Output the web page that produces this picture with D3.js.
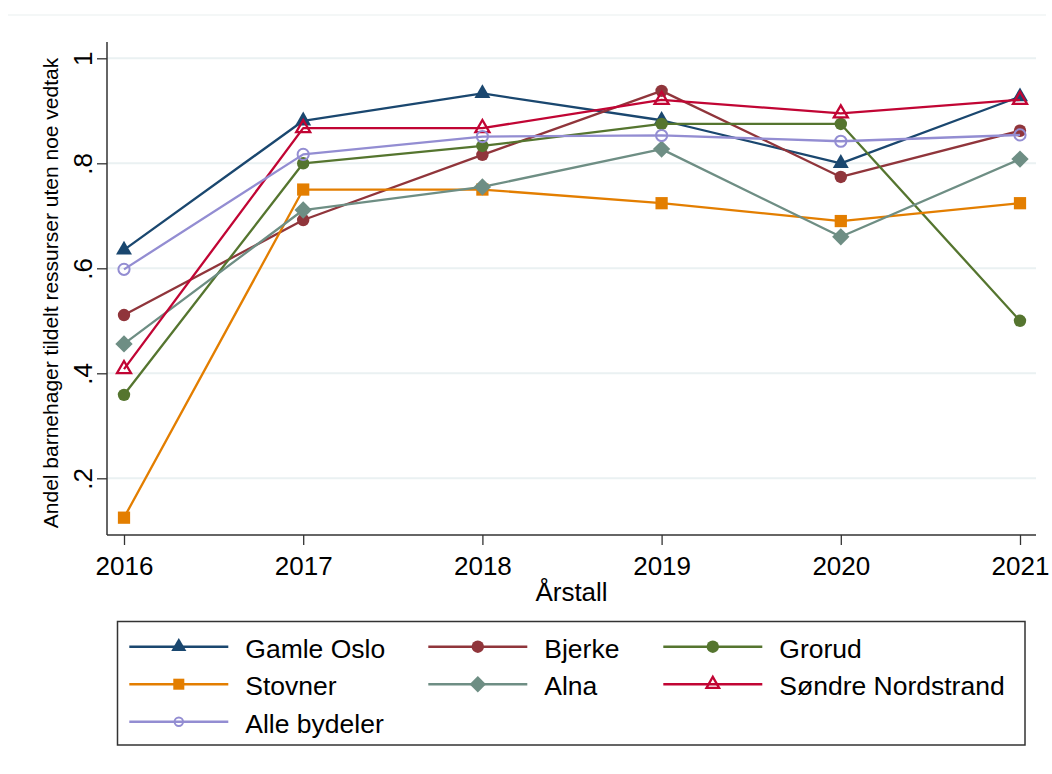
<!DOCTYPE html>
<html>
<head>
<meta charset="utf-8">
<script src="https://cdn.jsdelivr.net/npm/d3@7"></script>
<style>
  html, body { margin: 0; padding: 0; background: #fff; }
  svg { display: block; font-family: "Liberation Sans", Arial, sans-serif; }
</style>
</head>
<body>
<svg id="chart" width="1052" height="774"></svg>
<script>
// ---- data ----
const years = [2016, 2017, 2018, 2019, 2020, 2021];
const seriesNames = ["Gamle Oslo", "Bjerke", "Grorud", "Stovner", "Alna", "Søndre Nordstrand", "Alle bydeler"];
const gamleOslo = [0.635, 0.881, 0.933, 0.882, 0.800, 0.927];
const bjerke    = [0.511, 0.692, 0.816, 0.938, 0.774, 0.862];
const grorud    = [0.359, 0.800, 0.833, 0.875, 0.875, 0.500];
const stovner   = [0.125, 0.750, 0.750, 0.724, 0.690, 0.724];
const alna      = [0.456, 0.711, 0.755, 0.827, 0.660, 0.808];
const sondreNordstrand = [0.408, 0.867, 0.867, 0.921, 0.895, 0.921];
const alleBydeler = [0.598, 0.817, 0.851, 0.853, 0.842, 0.854];
const yTicks = [0.2, 0.4, 0.6, 0.8, 1];
const yTickLabels = [".2", ".4", ".6", ".8", "1"];
const xTitle = "Årstall";
const yTitle = "Andel barnehager tildelt ressurser uten noe vedtak";

const seriesValues = [gamleOslo, bjerke, grorud, stovner, alna, sondreNordstrand, alleBydeler];
const colors = ["#1a476f", "#90353b", "#55752f", "#e37e00", "#6e8e84", "#c10534", "#938dd2"];
const markers = ["triangle", "circle", "circle", "square", "diamond", "triangleHollow", "circleHollow"];

// ---- layout ----
const svg = d3.select("#chart");
const x = d3.scaleLinear().domain([2016, 2021]).range([124, 1020]);
const y = d3.scaleLinear().domain([0.2, 1]).range([478.3, 58.3]);
const plotLeft = 107, plotRight = 1036, plotTop = 42, plotBottom = 535;
const FONT = 26;

// faint outer line
svg.append("line").attr("x1", 8).attr("x2", 1046).attr("y1", 15).attr("y2", 15)
  .attr("stroke", "#f1f4f4").attr("stroke-width", 1.5);

// gridlines
svg.append("g").selectAll("line").data(yTicks).join("line")
  .attr("x1", plotLeft).attr("x2", plotRight)
  .attr("y1", d => y(d)).attr("y2", d => y(d))
  .attr("stroke", "#eaf1f2").attr("stroke-width", 2);

// y axis
const yAxis = d3.axisLeft(y).tickValues(yTicks)
  .tickFormat((d, i) => yTickLabels[i]).tickSize(10).tickSizeOuter(0);
const gy = svg.append("g").attr("transform", `translate(${plotLeft},0)`).call(yAxis);
gy.select(".domain").remove();
gy.selectAll(".tick line").attr("stroke", "#333").attr("stroke-width", 1.3);
gy.selectAll(".tick text")
  .attr("font-size", FONT).attr("fill", "#000")
  .attr("x", null).attr("dy", null)
  .attr("text-anchor", "middle")
  .attr("transform", "translate(-15,0) rotate(-90)")
  .attr("y", 0);
svg.append("line").attr("x1", plotLeft).attr("x2", plotLeft)
  .attr("y1", plotTop).attr("y2", plotBottom)
  .attr("stroke", "#333").attr("stroke-width", 1.5);

// x axis
const xAxis = d3.axisBottom(x).tickValues(years).tickFormat(d3.format("d"))
  .tickSize(10).tickSizeOuter(0);
const gx = svg.append("g").attr("transform", `translate(0,${plotBottom})`).call(xAxis);
gx.select(".domain").remove();
gx.selectAll(".tick line").attr("stroke", "#333").attr("stroke-width", 1.3);
gx.selectAll(".tick text").attr("font-size", FONT).attr("fill", "#000")
  .attr("dy", null).attr("y", 40);
svg.append("line").attr("x1", plotLeft).attr("x2", plotRight)
  .attr("y1", plotBottom).attr("y2", plotBottom)
  .attr("stroke", "#333").attr("stroke-width", 1.5);

// axis titles
svg.append("text").attr("x", 571.5).attr("y", 601).attr("text-anchor", "middle")
  .attr("font-size", FONT).attr("fill", "#000").text(xTitle);
svg.append("text").attr("transform", "translate(58,293) rotate(-90)")
  .attr("text-anchor", "middle").attr("font-size", 21).attr("fill", "#000").text(yTitle);

// marker drawing
function drawMarker(g, type, color, scale) {
  scale = scale || 1;
  if (type === "triangle") {
    g.append("path").attr("d", d3.symbol().type(d3.symbolTriangle).size(110 * scale * scale)())
      .attr("fill", color);
  } else if (type === "triangleHollow") {
    g.append("path").attr("d", d3.symbol().type(d3.symbolTriangle).size(85 * scale * scale)())
      .attr("fill", "none").attr("stroke", color).attr("stroke-width", 2.3);
  } else if (type === "circle") {
    g.append("circle").attr("r", 6.2 * scale).attr("fill", color);
  } else if (type === "circleHollow") {
    g.append("circle").attr("r", 5.6 * scale).attr("fill", "none")
      .attr("stroke", color).attr("stroke-width", 2);
  } else if (type === "square") {
    g.append("path").attr("d", d3.symbol().type(d3.symbolSquare).size(150 * scale * scale)())
      .attr("fill", color);
  } else if (type === "diamond") {
    g.append("path").attr("d", d3.symbol().type(d3.symbolSquare).size(150 * scale * scale)())
      .attr("transform", "rotate(45)").attr("fill", color);
  }
}

// series
const line = d3.line().x((d, i) => x(years[i])).y(d => y(d));
seriesValues.forEach((vals, s) => {
  const g = svg.append("g");
  g.append("path").datum(vals).attr("d", line)
    .attr("fill", "none").attr("stroke", colors[s]).attr("stroke-width", 2.3)
    .attr("stroke-linejoin", "round");
  vals.forEach((v, i) => {
    const mg = g.append("g").attr("transform", `translate(${x(years[i])},${y(v)})`);
    drawMarker(mg, markers[s], colors[s], 1);
  });
});

// legend
svg.append("rect").attr("x", 117.5).attr("y", 621.5).attr("width", 907.5).attr("height", 123.5)
  .attr("fill", "#fff").attr("stroke", "#333").attr("stroke-width", 1.5);
const colX = [129.3, 428.3, 663.3];
const rowY = [646.7, 684.2, 721.7];
const legendMarkerScale = [0.95, 1, 1, 0.9, 0.95, 0.9, 0.75];
seriesNames.forEach((name, s) => {
  const cx = colX[s % 3], cy = rowY[Math.floor(s / 3)];
  const g = svg.append("g").attr("transform", `translate(${cx},${cy})`);
  g.append("line").attr("x1", 0).attr("x2", 99).attr("y1", 0).attr("y2", 0)
    .attr("stroke", colors[s]).attr("stroke-width", 2.5);
  const mg = g.append("g").attr("transform", "translate(49.5,0)");
  drawMarker(mg, markers[s], colors[s], legendMarkerScale[s]);
  g.append("text").attr("x", 116).attr("y", 11).attr("font-size", 26.5)
    .attr("fill", "#000").text(name);
});
</script>
</body>
</html>
